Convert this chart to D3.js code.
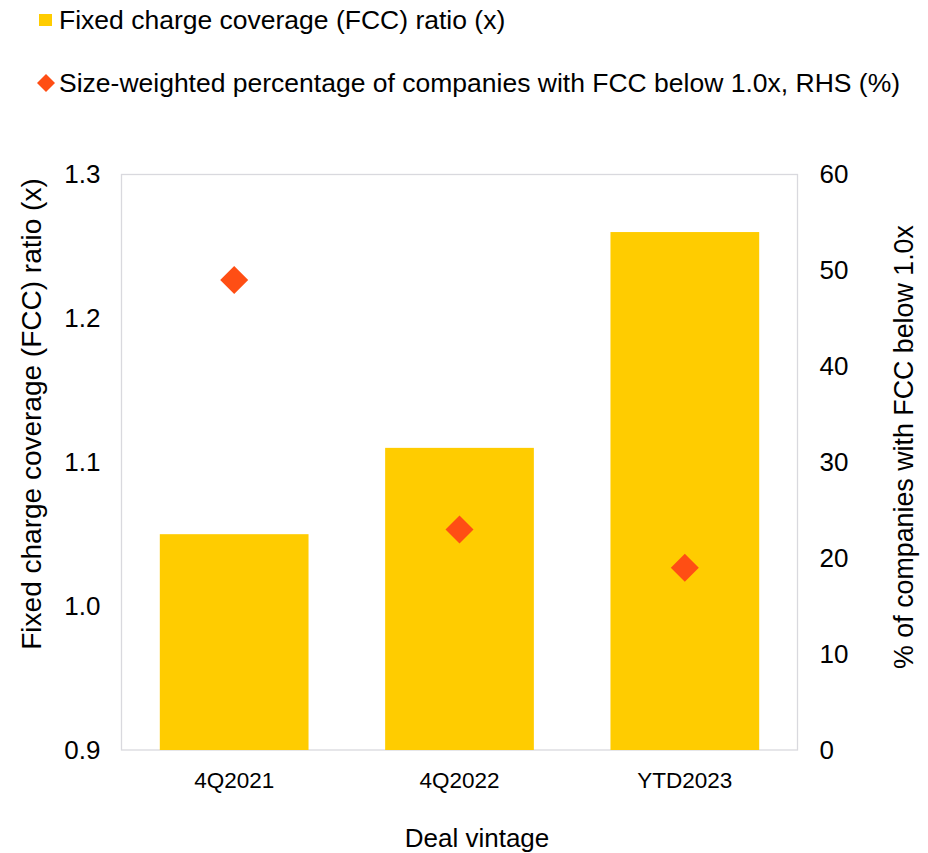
<!DOCTYPE html>
<html>
<head>
<meta charset="utf-8">
<script src="https://cdn.jsdelivr.net/npm/d3@7"></script>
<style>
  html, body { margin: 0; padding: 0; background: #fff; }
  svg { display: block; font-family: "Liberation Sans", Arial, sans-serif; }
</style>
</head>
<body>
<svg id="chart" width="928" height="853"></svg>
<script>
// Deal vintages and their metrics
const categories = ["4Q2021", "4Q2022", "YTD2023"];
const fccRatio = [1.05, 1.11, 1.26];          // bars, left axis (x)
const pctBelowOne = [49, 23, 19];             // diamonds, right axis (%)
const leftTicks = [0.9, 1.0, 1.1, 1.2, 1.3];
const rightTicks = [0, 10, 20, 30, 40, 50, 60];

const barColor = "#FFCC00";
const markerColor = "#FF4E14";
const frameColor = "#D9D9DE";
const textColor = "#000";
const fontFamily = "Liberation Sans, Arial, sans-serif";

const svg = d3.select("#chart");
const plot = { left: 121.5, right: 797.5, top: 174.5, bottom: 750 };

const x = d3.scaleBand()
  .domain(categories)
  .range([plot.left, plot.right])
  .paddingInner(0.34)
  .paddingOuter(0.17);

const yL = d3.scaleLinear().domain([0.9, 1.3]).range([plot.bottom, plot.top]);
const yR = d3.scaleLinear().domain([0, 60]).range([plot.bottom, plot.top]);

// Plot frame
svg.append("rect")
  .attr("x", plot.left).attr("y", plot.top)
  .attr("width", plot.right - plot.left)
  .attr("height", plot.bottom - plot.top)
  .attr("fill", "none")
  .attr("stroke", frameColor)
  .attr("stroke-width", 1.3);

// Bars
svg.append("g").selectAll("rect")
  .data(categories)
  .join("rect")
  .attr("x", d => x(d))
  .attr("width", x.bandwidth())
  .attr("y", (d, i) => yL(fccRatio[i]))
  .attr("height", (d, i) => yL(0.9) - yL(fccRatio[i]))
  .attr("fill", barColor);

// Diamond markers
const diamond = d3.symbol().type(d3.symbolSquare).size(392);
svg.append("g").selectAll("path")
  .data(categories)
  .join("path")
  .attr("d", diamond)
  .attr("transform", (d, i) => `translate(${x(d) + x.bandwidth() / 2},${yR(pctBelowOne[i])}) rotate(45)`)
  .attr("fill", markerColor);

// Left axis
const axisL = svg.append("g")
  .attr("transform", `translate(${plot.left},0)`)
  .call(d3.axisLeft(yL).tickValues(leftTicks).tickFormat(d3.format(".1f")).tickSize(0).tickPadding(21));
axisL.select(".domain").remove();
axisL.selectAll("text").attr("font-size", 26).attr("fill", textColor).attr("font-family", fontFamily);

// Right axis
const axisR = svg.append("g")
  .attr("transform", `translate(${plot.right},0)`)
  .call(d3.axisRight(yR).tickValues(rightTicks).tickSize(0).tickPadding(22));
axisR.select(".domain").remove();
axisR.selectAll("text").attr("font-size", 26).attr("fill", textColor).attr("font-family", fontFamily);

// Category axis
const axisB = svg.append("g")
  .attr("transform", `translate(0,${plot.bottom})`)
  .call(d3.axisBottom(x).tickSize(0).tickPadding(22));
axisB.select(".domain").remove();
axisB.selectAll("text").attr("font-size", 22.5).attr("fill", textColor).attr("font-family", fontFamily);

// Axis titles
svg.append("text")
  .attr("transform", `translate(41,414) rotate(-90)`)
  .attr("text-anchor", "middle")
  .attr("font-size", 28)
  .attr("fill", textColor)
  .text("Fixed charge coverage (FCC) ratio (x)");

svg.append("text")
  .attr("transform", `translate(913,447) rotate(-90)`)
  .attr("text-anchor", "middle")
  .attr("font-size", 26.8)
  .attr("fill", textColor)
  .text("% of companies with FCC below 1.0x");

svg.append("text")
  .attr("x", 477)
  .attr("y", 847)
  .attr("text-anchor", "middle")
  .attr("font-size", 26)
  .attr("fill", textColor)
  .text("Deal vintage");

// Legend
const legend = svg.append("g");
legend.append("rect")
  .attr("x", 39).attr("y", 14).attr("width", 13).attr("height", 12)
  .attr("fill", barColor);
legend.append("text")
  .attr("x", 59).attr("y", 29)
  .attr("font-size", 26.5)
  .attr("fill", textColor)
  .text("Fixed charge coverage (FCC) ratio (x)");

legend.append("path")
  .attr("d", d3.symbol().type(d3.symbolSquare).size(162))
  .attr("transform", "translate(46,83) rotate(45)")
  .attr("fill", markerColor);
legend.append("text")
  .attr("x", 59).attr("y", 92)
  .attr("font-size", 26.5)
  .attr("fill", textColor)
  .text("Size-weighted percentage of companies with FCC below 1.0x, RHS (%)");
</script>
</body>
</html>
